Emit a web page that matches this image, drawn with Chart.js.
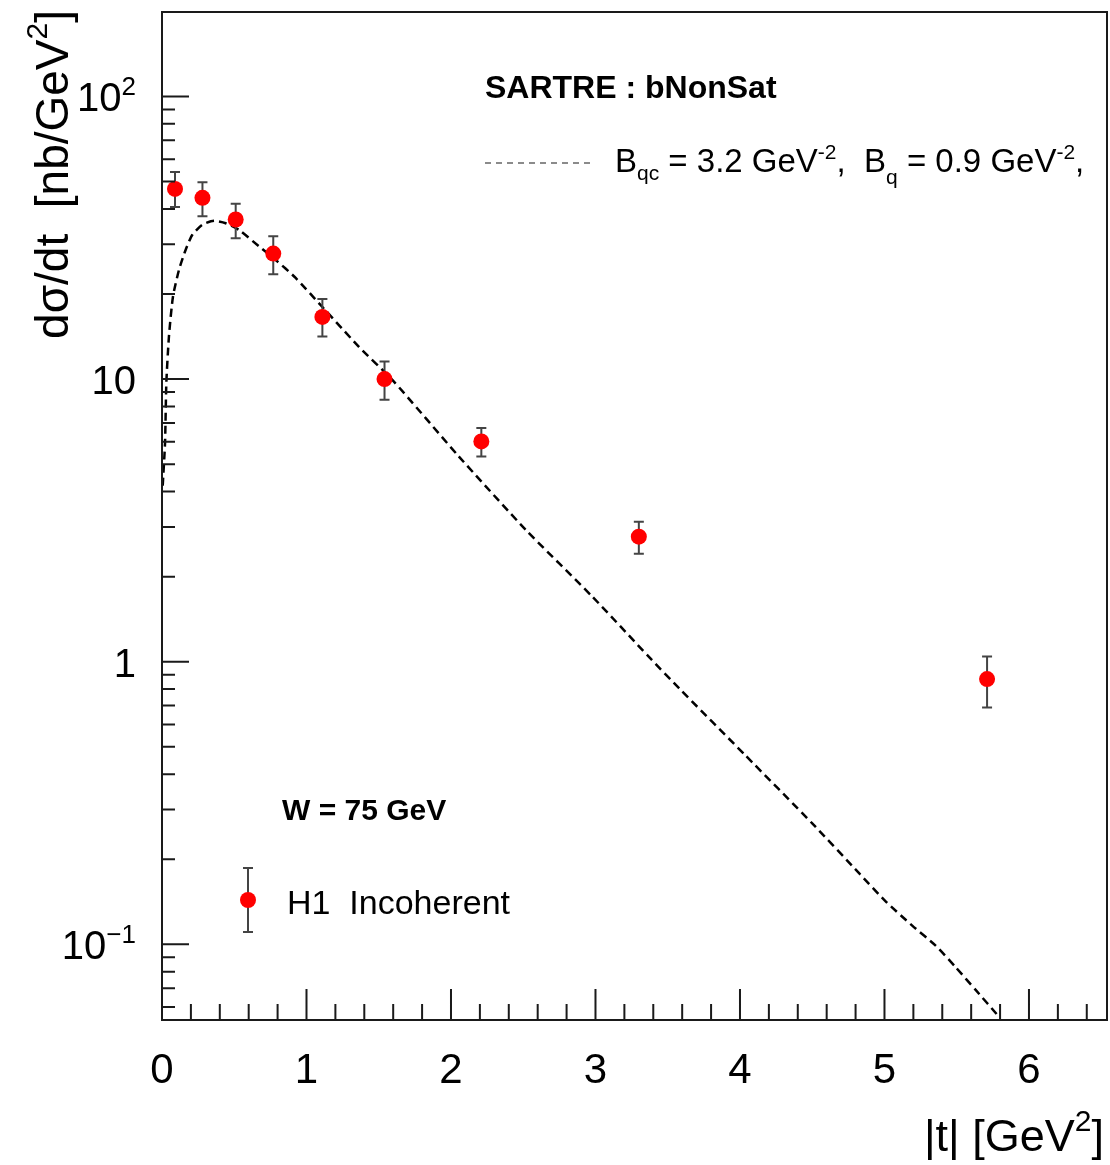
<!DOCTYPE html>
<html>
<head>
<meta charset="utf-8">
<script src="https://cdn.jsdelivr.net/npm/chart.js@4/dist/chart.umd.min.js"></script>
<style>
  html, body { margin: 0; padding: 0; background: #fff; overflow: hidden; }
  canvas { display: block; }
</style>
</head>
<body>
<canvas id="c" width="1110" height="1165"></canvas>
<script>
// H1 incoherent J/psi data: |t| bin centres, cross sections and error band edges
const tBins    = [0.09, 0.28, 0.51, 0.77, 1.11, 1.54, 2.21, 3.30, 5.71];
const h1Values = [47.1, 43.8, 36.7, 27.8, 16.6, 10.0, 6.02, 2.77, 0.868];
const h1Upper  = [54.0, 49.7, 41.7, 32.0, 19.2, 11.55, 6.71, 3.13, 1.043];
const h1Lower  = [40.6, 37.7, 31.5, 23.5, 14.15, 8.45, 5.32, 2.41, 0.689];

// SARTRE bNonSat prediction
const curveT = [0.005, 0.021, 0.030, 0.048, 0.076, 0.118, 0.164, 0.210, 0.279, 0.360,
                0.441, 0.533, 0.671, 0.787, 0.925, 1.363, 1.594, 2.055, 2.517, 2.978,
                3.370, 3.578, 4.040, 4.500, 4.824, 5.008, 5.192, 5.354, 5.493, 5.631, 5.792];
const curveV = [4.2, 5.95, 9.7, 14.15, 19.6, 24.4, 28.7, 32.4, 35.2, 36.3,
                35.6, 33.7, 29.5, 26.4, 22.8, 13.0, 9.94, 5.32, 2.93, 1.70,
                1.04, 0.806, 0.465, 0.268, 0.1786, 0.1420, 0.1165, 0.0990, 0.0830, 0.0690, 0.0555];

// axis ranges and tick labels
const xRange = [0, 6.54];
const yRange = [0.054, 199];
const xMajorTicks = [0, 1, 2, 3, 4, 5, 6];
const yMajorTicks = [0.1, 1, 10, 100];
const yTickLabels = [
  { base: '10', exp: '\u22121' },
  { base: '1', exp: '' },
  { base: '10', exp: '' },
  { base: '10', exp: '2' }
];

const FONT = '"Liberation Sans", Arial, Helvetica, sans-serif';
const AXIS_COLOR = '#1a1a1a';
const ERR_COLOR = '#444';

function font(size, bold) { return (bold ? 'bold ' : '') + size + 'px ' + FONT; }

// draws a run of text pieces with individual size / vertical offset
function richWidth(ctx, parts) {
  let w = 0;
  for (const p of parts) { ctx.font = font(p.size, p.bold); w += ctx.measureText(p.t).width; }
  return w;
}
function drawRich(ctx, parts, x, y, align) {
  let cx = x;
  if (align === 'right') cx = x - richWidth(ctx, parts);
  else if (align === 'center') cx = x - richWidth(ctx, parts) / 2;
  ctx.textAlign = 'left';
  ctx.textBaseline = 'alphabetic';
  for (const p of parts) {
    ctx.font = font(p.size, p.bold);
    ctx.fillText(p.t, cx, y + (p.dy || 0));
    cx += ctx.measureText(p.t).width;
  }
}

function errorBar(ctx, x, yTop, yBot) {
  ctx.save();
  ctx.strokeStyle = ERR_COLOR;
  ctx.lineWidth = 2;
  ctx.beginPath();
  ctx.moveTo(x, yTop); ctx.lineTo(x, yBot);
  ctx.moveTo(x - 5, yTop); ctx.lineTo(x + 5, yTop);
  ctx.moveTo(x - 5, yBot); ctx.lineTo(x + 5, yBot);
  ctx.stroke();
  ctx.restore();
}

const frame = {
  id: 'frame',
  beforeDatasetDraw(chart, args) {
    if (args.index !== 0) return;
    const xs = chart.scales.x, ys = chart.scales.y, ctx = chart.ctx;
    tBins.forEach((t, i) => {
      errorBar(ctx, xs.getPixelForValue(t), ys.getPixelForValue(h1Upper[i]), ys.getPixelForValue(h1Lower[i]));
    });
  },
  afterDraw(chart) {
    const ctx = chart.ctx, a = chart.chartArea;
    const xs = chart.scales.x, ys = chart.scales.y;
    ctx.save();
    ctx.fillStyle = '#000';

    // frame
    ctx.strokeStyle = AXIS_COLOR;
    ctx.lineWidth = 2;
    ctx.strokeRect(a.left, a.top, a.right - a.left, a.bottom - a.top);

    // x ticks (inside, pointing up)
    ctx.beginPath();
    for (let k = 0; k <= Math.floor(xRange[1] / 0.2 + 1e-6); k++) {
      const v = k * 0.2;
      const px = xs.getPixelForValue(v);
      if (px <= a.left + 1 || px >= a.right - 1) continue;
      const major = Math.abs(v - Math.round(v)) < 1e-6;
      ctx.moveTo(px, a.bottom);
      ctx.lineTo(px, a.bottom - (major ? 31 : 16));
    }
    // y ticks (inside, pointing right)
    for (let e = -2; e <= 2; e++) {
      for (let m = 1; m <= 9; m++) {
        const v = m * Math.pow(10, e);
        if (v < yRange[0] || v > yRange[1]) continue;
        const py = ys.getPixelForValue(v);
        ctx.moveTo(a.left, py);
        ctx.lineTo(a.left + (m === 1 ? 27 : 13), py);
      }
    }
    ctx.stroke();

    // x tick labels
    ctx.font = font(42);
    ctx.textAlign = 'center';
    ctx.textBaseline = 'alphabetic';
    xMajorTicks.forEach(v => ctx.fillText(String(v), xs.getPixelForValue(v), 1083));

    // y tick labels
    yMajorTicks.forEach((v, i) => {
      const lab = yTickLabels[i];
      const py = ys.getPixelForValue(v) + 15;
      const parts = [{ t: lab.base, size: 40 }];
      if (lab.exp) parts.push({ t: lab.exp, size: 26, dy: -16 });
      drawRich(ctx, parts, 136, py, 'right');
    });

    // axis titles
    drawRich(ctx, [
      { t: '|t| [GeV', size: 45 },
      { t: '2', size: 30, dy: -20 },
      { t: ']', size: 45 }
    ], 1104, 1151, 'right');

    ctx.save();
    ctx.translate(68, 10);
    ctx.rotate(-Math.PI / 2);
    drawRich(ctx, [
      { t: 'd\u03c3/dt  [nb/GeV', size: 46 },
      { t: '2', size: 30, dy: -21 },
      { t: ']', size: 46 }
    ], 0, 0, 'right');
    ctx.restore();

    // model annotation
    drawRich(ctx, [{ t: 'SARTRE : bNonSat', size: 32, bold: true }], 485, 98, 'left');

    ctx.save();
    ctx.strokeStyle = '#666';
    ctx.lineWidth = 1.5;
    ctx.setLineDash([6, 5]);
    ctx.beginPath();
    ctx.moveTo(485, 163); ctx.lineTo(593, 163);
    ctx.stroke();
    ctx.restore();

    drawRich(ctx, [
      { t: 'B', size: 33 },
      { t: 'qc', size: 21, dy: 8 },
      { t: ' = 3.2 GeV', size: 33 },
      { t: '-2', size: 21, dy: -13 },
      { t: ',  B', size: 33 },
      { t: 'q', size: 21, dy: 12 },
      { t: ' = 0.9 GeV', size: 33 },
      { t: '-2', size: 21, dy: -13 },
      { t: ',', size: 33 }
    ], 615, 172, 'left');

    // energy label and data legend
    drawRich(ctx, [{ t: 'W = 75 GeV', size: 30, bold: true }], 282, 820, 'left');

    errorBar(ctx, 248, 868, 932);
    ctx.fillStyle = '#ff0000';
    ctx.beginPath();
    ctx.arc(248, 900, 8, 0, Math.PI * 2);
    ctx.fill();
    ctx.fillStyle = '#000';
    drawRich(ctx, [{ t: 'H1  Incoherent', size: 34 }], 287, 914, 'left');

    ctx.restore();
  }
};

new Chart(document.getElementById('c'), {
  type: 'scatter',
  data: {
    datasets: [
      {
        label: 'H1  Incoherent',
        data: tBins.map((t, i) => ({ x: t, y: h1Values[i] })),
        pointRadius: 8,
        pointHoverRadius: 8,
        pointBackgroundColor: '#ff0000',
        pointBorderWidth: 0,
        showLine: false,
        order: 0
      },
      {
        label: 'SARTRE : bNonSat',
        data: curveT.map((t, i) => ({ x: t, y: curveV[i] })),
        showLine: true,
        borderColor: '#000',
        borderWidth: 2.5,
        borderDash: [8, 5],
        pointRadius: 0,
        tension: 0.2,
        order: 1
      }
    ]
  },
  options: {
    responsive: false,
    animation: false,
    events: [],
    layout: { autoPadding: false, padding: { left: 162, top: 12, right: 3, bottom: 145 } },
    plugins: { legend: { display: false }, tooltip: { enabled: false } },
    scales: {
      x: { type: 'linear', min: xRange[0], max: xRange[1], display: false },
      y: { type: 'logarithmic', min: yRange[0], max: yRange[1], display: false }
    }
  },
  plugins: [frame]
});
</script>
</body>
</html>
